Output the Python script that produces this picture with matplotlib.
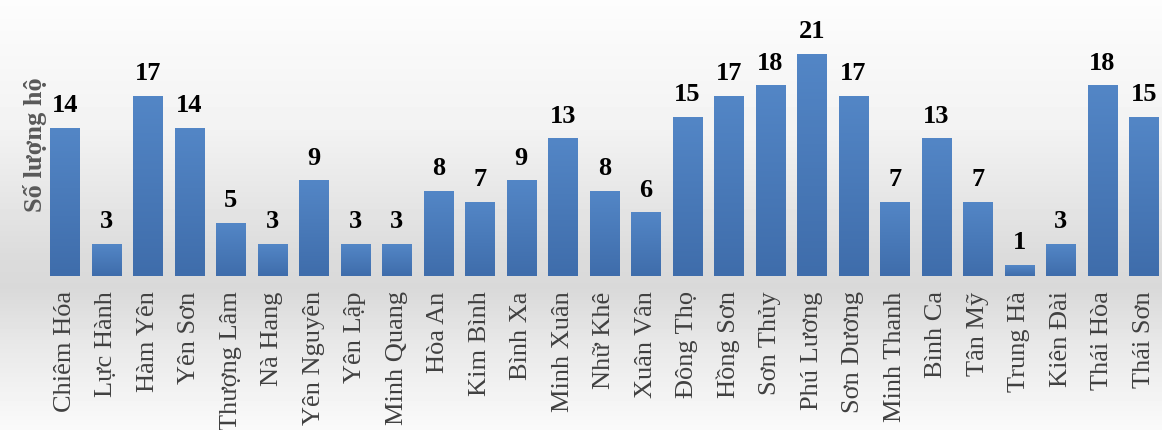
"""Bar chart: number of households per commune."""

import numpy as np
import matplotlib
matplotlib.use("Agg")
import matplotlib.pyplot as plt
from matplotlib.colors import LinearSegmentedColormap

communes = [
    "Chiêm Hóa", "Lực Hành", "Hàm Yên", "Yên Sơn", "Thượng Lâm", "Nà Hang",
    "Yên Nguyên", "Yên Lập", "Minh Quang", "Hòa An", "Kim Bình", "Bình Xa",
    "Minh Xuân", "Nhữ Khê", "Xuân Vân", "Đông Thọ", "Hồng Sơn", "Sơn Thủy",
    "Phú Lương", "Sơn Dương", "Minh Thanh", "Bình Ca", "Tân Mỹ", "Trung Hà",
    "Kiên Đài", "Thái Hòa", "Thái Sơn",
]
households = [14, 3, 17, 14, 5, 3, 9, 3, 3, 8, 7, 9, 13, 8, 6, 15, 17, 18,
              21, 17, 7, 13, 7, 1, 3, 18, 15]
y_label = "Số lượng hộ"

plt.rcParams["font.family"] = ["Liberation Serif", "DejaVu Serif"]

fig = plt.figure(figsize=(11.62, 4.30), dpi=100)

# soft gray background, darker around the bar baseline
bg = fig.add_axes([0, 0, 1, 1], zorder=-1)
rows = np.linspace(0, 1, 430)
shade = np.interp(rows, [0.0, 0.3, 0.6, 0.67, 0.8, 1.0],
                  [0.99, 0.95, 0.86, 0.85, 0.91, 0.98])
bg.imshow(np.repeat(shade[:, None], 2, axis=1), cmap="gray", vmin=0, vmax=1,
          aspect="auto", extent=[0, 1, 0, 1], origin="upper")
bg.set_axis_off()

ax = fig.add_axes([44 / 1162, 154 / 430, 1118 / 1162, 264 / 430])
ax.patch.set_alpha(0)
x = np.arange(len(communes))
bars = ax.bar(x, households, width=0.7, color="#4a7cbb", zorder=2)

bar_cmap = LinearSegmentedColormap.from_list("bar", ["#3f6dab", "#5386c6"])
grad = np.linspace(0, 1, 64)[:, None]
for b in bars:
    ax.imshow(grad, cmap=bar_cmap, origin="lower", aspect="auto", zorder=2.5,
              extent=[b.get_x(), b.get_x() + b.get_width(), 0, b.get_height()])

for xi, v in zip(x, households):
    ax.annotate(str(v), (xi, v), xytext=(0, 8), textcoords="offset points",
                ha="center", va="bottom", fontsize=19, fontweight="bold",
                color="black")

ax.set_xlim(-0.5, 26.44)
ax.set_ylim(0, 25)
ax.set_xticks(x)
ax.set_xticklabels(communes, rotation=90, fontsize=19, color="#404040")
ax.tick_params(axis="x", length=0, pad=11)
ax.set_yticks([])
for side in ax.spines.values():
    side.set_visible(False)

fig.text(35 / 1162, 1 - 145 / 430, y_label, rotation=90, ha="center",
         va="center", fontsize=19, fontweight="bold", color="#595959")

fig.savefig("out.png", dpi=100)
